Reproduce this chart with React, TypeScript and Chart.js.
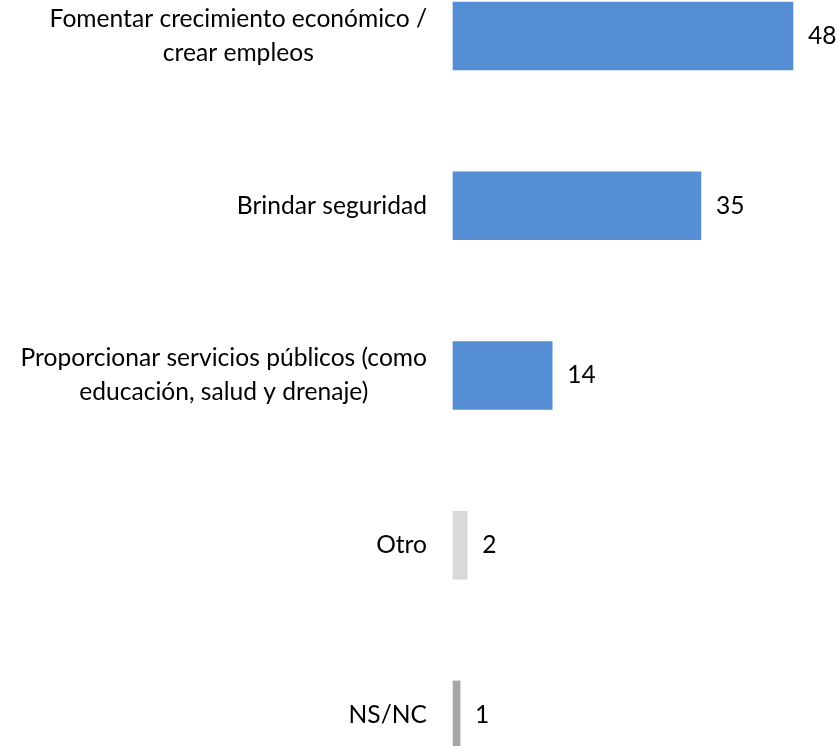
import React, { useEffect, useRef } from "react";
import { Chart, registerables } from "chart.js";

Chart.register(...registerables);

const categories: string[][] = [
  ["Fomentar crecimiento económico /", "crear empleos"],
  ["Brindar seguridad"],
  ["Proporcionar servicios públicos (como", "educación, salud y drenaje)"],
  ["Otro"],
  ["NS/NC"],
];
const values: number[] = [48, 35, 14, 2, 1];
const barColors: string[] = ["#558ED5", "#558ED5", "#558ED5", "#D9D9D9", "#A6A6A6"];

const FONT_FAMILY = "Lato, 'Open Sans', sans-serif";
const FONT_SIZE = 24.6;
const LINE_H = 34;

const labelPlugin = {
  id: "customLabels",
  afterDatasetsDraw(chart: any) {
    const ctx = chart.ctx as CanvasRenderingContext2D;
    const yScale = chart.scales.y;
    const xScale = chart.scales.x;
    const meta = chart.getDatasetMeta(0);
    ctx.save();
    ctx.font = `${FONT_SIZE}px ${FONT_FAMILY}`;
    ctx.fillStyle = "#000000";
    ctx.textBaseline = "middle";
    const right = xScale.left - 26;
    categories.forEach((lines, i) => {
      const cy = yScale.getPixelForValue(i);
      const widths = lines.map((l) => ctx.measureText(l).width);
      const blockW = Math.max(...widths);
      const cx = right - blockW / 2;
      ctx.textAlign = "center";
      const startY = cy - ((lines.length - 1) * LINE_H) / 2;
      lines.forEach((l, j) => {
        ctx.fillText(l, cx, startY + j * LINE_H);
      });
      const bar = meta.data[i];
      ctx.textAlign = "left";
      ctx.fillText(String(values[i]), bar.x + 15, cy);
    });
    ctx.restore();
  },
};

export default function App() {
  const ref = useRef<HTMLCanvasElement>(null);
  useEffect(() => {
    if (!ref.current) return;
    const chart = new Chart(ref.current, {
      type: "bar",
      data: {
        labels: categories.map((c) => c.join(" ")),
        datasets: [
          {
            data: values,
            backgroundColor: barColors,
            borderWidth: 0,
            barThickness: 68,
            clip: false as any,
          },
        ],
      },
      options: {
        indexAxis: "y",
        responsive: false,
        animation: false,
        layout: { padding: { left: 453, right: 45, top: 36, bottom: 31 } },
        scales: {
          x: { display: false, min: 0, max: 48 },
          y: { display: false, offset: false },
        },
        plugins: {
          legend: { display: false },
          tooltip: { enabled: false },
        },
      },
      plugins: [labelPlugin],
    });
    return () => chart.destroy();
  }, []);
  return (
    <div style={{ position: "absolute", left: 0, top: 0, width: 838, height: 746, background: "#fff" }}>
      <canvas ref={ref} width={838} height={746} style={{ width: 838, height: 746, display: "block" }} />
    </div>
  );
}
